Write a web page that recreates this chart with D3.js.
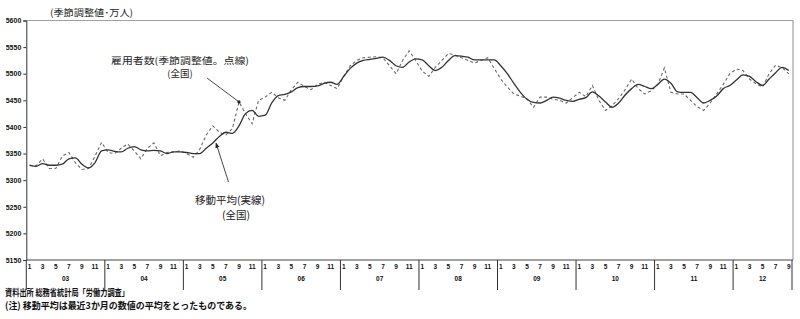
<!DOCTYPE html>
<html>
<head>
<meta charset="utf-8">
<script src="https://cdn.jsdelivr.net/npm/d3@7"></script>
<style>
body { margin: 0; background: #fff; }
svg text { font-family: "Noto Sans CJK JP", sans-serif; }
.num { font-family: "Liberation Sans", Arial, sans-serif !important; font-weight: bold; }
</style>
</head>
<body>
<svg id="chart" width="800" height="319"></svg>
<script>
// 2003/1 - 2012/9, monthly
const years = ["03", "04", "05", "06", "07", "08", "09", "10", "11", "12"];
const yTicks = [5150, 5200, 5250, 5300, 5350, 5400, 5450, 5500, 5550, 5600];

// 雇用者数(季節調整値) 点線
const koyou = [
  5328, 5327, 5340, 5322, 5322, 5345, 5352, 5333, 5320, 5322, 5345, 5371,
  5352, 5350, 5360, 5368, 5355, 5340, 5360, 5370, 5346, 5352, 5353, 5355,
  5350, 5343, 5358, 5385, 5402, 5390, 5385, 5397, 5447, 5425, 5406, 5450,
  5456, 5465, 5455, 5450, 5470, 5484, 5476, 5470, 5480, 5484, 5478, 5472,
  5495, 5515, 5525, 5530, 5531, 5532, 5530, 5515, 5500, 5525, 5543, 5525,
  5505, 5495, 5512, 5525, 5538, 5535, 5530, 5525, 5520, 5525, 5530, 5510,
  5490, 5475, 5462, 5458, 5453, 5437, 5456, 5456, 5452, 5450, 5445, 5455,
  5465, 5457, 5478, 5450, 5431, 5440, 5453, 5470, 5490, 5472, 5462, 5468,
  5480, 5511, 5465, 5462, 5462, 5450, 5438, 5431, 5445, 5462, 5480, 5500,
  5509, 5506, 5490, 5481, 5475, 5500, 5516, 5511, 5500
];

// 移動平均 実線
const idou = [
  5328, 5326, 5331, 5328, 5328, 5330, 5340, 5342, 5330, 5323, 5333, 5355,
  5357, 5354, 5353, 5360, 5363, 5357, 5355, 5356, 5355, 5350, 5353, 5353,
  5352, 5350, 5350, 5360, 5370, 5382, 5390, 5388, 5402, 5425, 5431, 5420,
  5422, 5445, 5459, 5461, 5466, 5474, 5476, 5476, 5477, 5482, 5484, 5480,
  5495, 5510, 5520, 5525, 5527, 5529, 5531, 5525, 5515, 5512, 5522, 5528,
  5526, 5515, 5506, 5512, 5525, 5534, 5533, 5531, 5526, 5526, 5526, 5526,
  5515, 5500, 5482, 5465, 5452, 5446, 5445, 5450, 5456, 5454, 5450, 5448,
  5452, 5455, 5466, 5458, 5447, 5437, 5445, 5460, 5472, 5480, 5476, 5472,
  5480, 5490, 5482, 5466, 5465, 5465, 5455, 5445, 5450, 5458, 5472, 5478,
  5488, 5498, 5495, 5485, 5478, 5490, 5502, 5512, 5506
];

const svg = d3.select("#chart");
const n = koyou.length;

const x = d3.scaleLinear().domain([0, n]).range([26.3, 792]);
const y = d3.scaleLinear().domain([5150, 5600]).range([260, 20.5]);

// top and right frame
svg.append("line").attr("x1", x(0)).attr("x2", 793).attr("y1", y(5600)).attr("y2", y(5600))
  .attr("stroke", "#a0a0a0").attr("stroke-width", 1.2);
svg.append("line").attr("x1", 793).attr("x2", 793).attr("y1", y(5600)).attr("y2", y(5150))
  .attr("stroke", "#a0a0a0").attr("stroke-width", 1.2);

// y axis
const yAxis = svg.append("g").attr("transform", `translate(${x(0)},0)`)
  .call(d3.axisLeft(y).tickValues(yTicks).tickSize(3).tickFormat(d3.format("d")));
yAxis.select(".domain").attr("stroke", "#333");
yAxis.selectAll(".tick line").attr("stroke", "#333");
yAxis.selectAll("text").attr("class", "num").attr("font-size", 7).attr("fill", "#111").attr("x", -5);

// x axis line
svg.append("line").attr("x1", x(0)).attr("x2", 793).attr("y1", y(5150)).attr("y2", y(5150))
  .attr("stroke", "#444").attr("stroke-width", 1.2);

// year separators
const sepX = d3.range(0, n, 12).concat([n]);
svg.selectAll(".sep").data(sepX).enter().append("line")
  .attr("x1", d => x(d)).attr("x2", d => x(d))
  .attr("y1", y(5150)).attr("y2", 290)
  .attr("stroke", "#333").attr("stroke-width", 1);

// month labels (odd months)
const months = d3.range(n).filter(i => i % 2 === 0);
svg.selectAll(".mlab").data(months).enter().append("text")
  .attr("class", "num")
  .attr("x", i => x(i + 0.5)).attr("y", 268.5)
  .attr("text-anchor", "middle").attr("font-size", 6.5).attr("fill", "#111")
  .text(i => (i % 12) + 1);

// year labels
svg.selectAll(".ylab").data(years).enter().append("text")
  .attr("class", "num")
  .attr("x", (d, i) => (x(i * 12) + x(Math.min((i + 1) * 12, n))) / 2)
  .attr("y", 281)
  .attr("text-anchor", "middle").attr("font-size", 6.5).attr("fill", "#111")
  .text(d => d);

// lines
const lineSA = d3.line().x((d, i) => x(i + 0.5)).y(d => y(d));
const lineMA = d3.line().x((d, i) => x(i + 0.5)).y(d => y(d)).curve(d3.curveMonotoneX);

svg.append("path").datum(koyou).attr("d", lineSA)
  .attr("fill", "none").attr("stroke", "#6a6a6a").attr("stroke-width", 1.1)
  .attr("stroke-dasharray", "3,2.5");
svg.append("path").datum(idou).attr("d", lineMA)
  .attr("fill", "none").attr("stroke", "#333").attr("stroke-width", 1.3);

// unit label
svg.append("text").attr("x", 50).attr("y", 16).attr("font-size", 9.5).attr("fill", "#222")
  .attr("textLength", 83).attr("lengthAdjust", "spacingAndGlyphs")
  .text("(季節調整値･万人)");

// annotations
svg.append("text").attr("x", 180).attr("y", 64).attr("text-anchor", "middle")
  .attr("font-size", 9.5).attr("fill", "#222")
  .attr("textLength", 138).attr("lengthAdjust", "spacingAndGlyphs")
  .text("雇用者数(季節調整値。点線)");
svg.append("text").attr("x", 180).attr("y", 76.5).attr("text-anchor", "middle")
  .attr("font-size", 9.5).attr("fill", "#222").text("(全国)");
svg.append("line").attr("x1", 207).attr("y1", 78).attr("x2", x(32.5)).attr("y2", y(koyou[32]))
  .attr("stroke", "#333").attr("stroke-width", 0.9);
svg.append("circle").attr("cx", x(32.5)).attr("cy", y(koyou[32])).attr("r", 1.6).attr("fill", "#222");

svg.append("text").attr("x", 230).attr("y", 204).attr("text-anchor", "middle")
  .attr("font-size", 10.5).attr("fill", "#222").text("移動平均(実線)");
svg.append("text").attr("x", 236).attr("y", 219).attr("text-anchor", "middle")
  .attr("font-size", 10.5).attr("fill", "#222").text("(全国)");
svg.append("defs").append("marker").attr("id", "ah")
  .attr("viewBox", "0 0 10 10").attr("refX", 9).attr("refY", 5)
  .attr("markerWidth", 6).attr("markerHeight", 6).attr("orient", "auto")
  .append("path").attr("d", "M0,1 L10,5 L0,9 Z").attr("fill", "#222");
svg.append("line").attr("x1", 228.5).attr("y1", 182).attr("x2", 216).attr("y2", 143)
  .attr("stroke", "#333").attr("stroke-width", 0.9).attr("marker-end", "url(#ah)");

// footer
svg.append("text").attr("x", 5).attr("y", 296).attr("font-size", 9.5).attr("font-weight", "bold")
  .attr("fill", "#111").attr("textLength", 124).attr("lengthAdjust", "spacingAndGlyphs")
  .text("資料出所 総務省統計局「労働力調査」");
svg.append("text").attr("x", 5).attr("y", 309).attr("font-size", 9.5).attr("font-weight", "bold")
  .attr("fill", "#111").attr("textLength", 247).attr("lengthAdjust", "spacingAndGlyphs")
  .text("(注) 移動平均は最近3か月の数値の平均をとったものである。");
</script>
</body>
</html>
